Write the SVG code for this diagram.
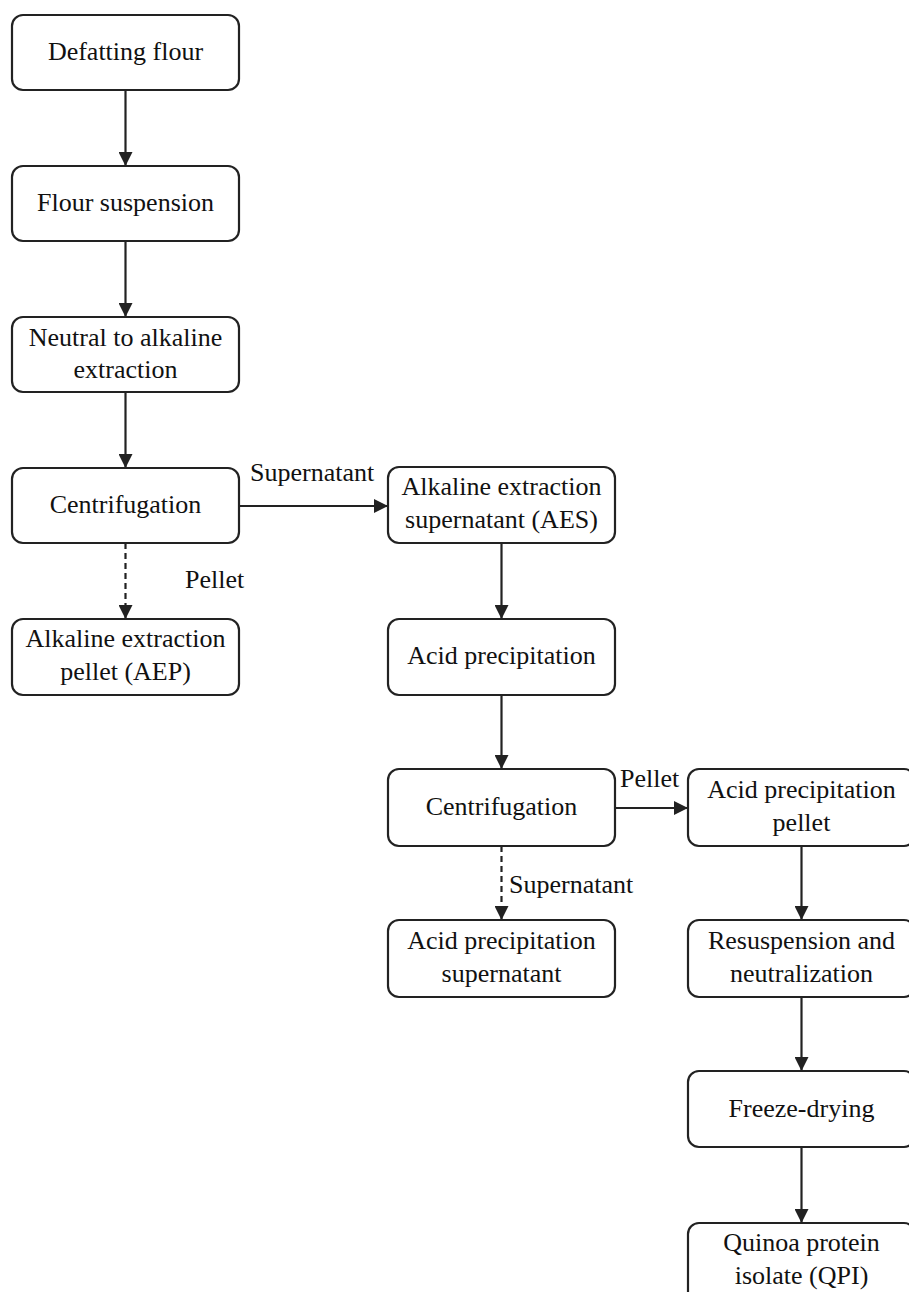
<svg xmlns="http://www.w3.org/2000/svg" width="909" height="1292" viewBox="0 0 909 1292">
<style>
.box{fill:#fff;stroke:#222;stroke-width:2.2}
.t{font-family:"Liberation Serif","Times New Roman",serif;font-size:26px;fill:#111;text-anchor:middle}
.l{font-family:"Liberation Serif","Times New Roman",serif;font-size:26px;fill:#111}
.e{fill:none;stroke:#222;stroke-width:2.2}
.d{stroke-dasharray:6,4}
</style>
<defs>
<marker id="ah" viewBox="0 0 14 14" refX="14" refY="7" markerWidth="14" markerHeight="14" markerUnits="userSpaceOnUse" orient="auto">
<path d="M0,0 L14,7 L0,14 Z" fill="#222"/>
</marker>
</defs>
<rect width="909" height="1292" fill="#fff"/>
<g id="connectors">
<line class="e" x1="125.5" y1="90" x2="125.5" y2="166" marker-end="url(#ah)"/>
<line class="e" x1="125.5" y1="241" x2="125.5" y2="317" marker-end="url(#ah)"/>
<line class="e" x1="125.5" y1="392" x2="125.5" y2="468" marker-end="url(#ah)"/>
<line class="e d" x1="125.5" y1="543" x2="125.5" y2="619" marker-end="url(#ah)"/>
<line class="e" x1="239" y1="506" x2="388" y2="506" marker-end="url(#ah)"/>
<text class="l" x="250" y="481">Supernatant</text>
<text class="l" x="185" y="588">Pellet</text>
<line class="e" x1="501.5" y1="543" x2="501.5" y2="619" marker-end="url(#ah)"/>
<line class="e" x1="501.5" y1="695" x2="501.5" y2="769" marker-end="url(#ah)"/>
<line class="e d" x1="501.5" y1="846" x2="501.5" y2="920" marker-end="url(#ah)"/>
<line class="e" x1="615" y1="808" x2="688" y2="808" marker-end="url(#ah)"/>
<text class="l" x="620" y="787">Pellet</text>
<text class="l" x="509" y="893">Supernatant</text>
<line class="e" x1="801.5" y1="846" x2="801.5" y2="920" marker-end="url(#ah)"/>
<line class="e" x1="801.5" y1="997" x2="801.5" y2="1071" marker-end="url(#ah)"/>
<line class="e" x1="801.5" y1="1147" x2="801.5" y2="1223" marker-end="url(#ah)"/>
</g>
<g id="n1"><rect class="box" x="12" y="15" width="227" height="75" rx="11"/><text class="t" x="125.5" y="60">Defatting flour</text></g>
<g id="n2"><rect class="box" x="12" y="166" width="227" height="75" rx="11"/><text class="t" x="125.5" y="211">Flour suspension</text></g>
<g id="n3"><rect class="box" x="12" y="317" width="227" height="75" rx="11"/><text class="t" x="125.5" y="346">Neutral to alkaline</text><text class="t" x="125.5" y="378">extraction</text></g>
<g id="n4"><rect class="box" x="12" y="468" width="227" height="75" rx="11"/><text class="t" x="125.5" y="513">Centrifugation</text></g>
<g id="n5"><rect class="box" x="12" y="619" width="227" height="76" rx="11"/><text class="t" x="125.5" y="647">Alkaline extraction</text><text class="t" x="125.5" y="680">pellet (AEP)</text></g>
<g id="n6"><rect class="box" x="388" y="467" width="227" height="76" rx="11"/><text class="t" x="501.5" y="495">Alkaline extraction</text><text class="t" x="501.5" y="528">supernatant (AES)</text></g>
<g id="n7"><rect class="box" x="388" y="619" width="227" height="76" rx="11"/><text class="t" x="501.5" y="664">Acid precipitation</text></g>
<g id="n8"><rect class="box" x="388" y="769" width="227" height="77" rx="11"/><text class="t" x="501.5" y="815">Centrifugation</text></g>
<g id="n9"><rect class="box" x="388" y="920" width="227" height="77" rx="11"/><text class="t" x="501.5" y="949">Acid precipitation</text><text class="t" x="501.5" y="982">supernatant</text></g>
<g id="n10"><rect class="box" x="688" y="769" width="227" height="77" rx="11"/><text class="t" x="801.5" y="798">Acid precipitation</text><text class="t" x="801.5" y="831">pellet</text></g>
<g id="n11"><rect class="box" x="688" y="920" width="227" height="77" rx="11"/><text class="t" x="801.5" y="949">Resuspension and</text><text class="t" x="801.5" y="982">neutralization</text></g>
<g id="n12"><rect class="box" x="688" y="1071" width="227" height="76" rx="11"/><text class="t" x="801.5" y="1117">Freeze-drying</text></g>
<g id="n13"><rect class="box" x="688" y="1223" width="227" height="80" rx="11"/><text class="t" x="801.5" y="1251">Quinoa protein</text><text class="t" x="801.5" y="1284">isolate (QPI)</text></g>
</svg>
